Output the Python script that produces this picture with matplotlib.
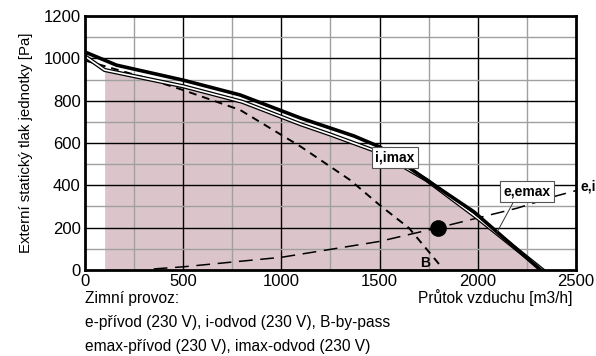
import numpy as np
import matplotlib.pyplot as plt

plt.rcParams['font.family'] = ['Liberation Sans', 'DejaVu Sans']

# horni krivka (silna)
x_top = [0, 160, 500, 790, 1100, 1370, 1500, 1740, 1980, 2320]
y_top = [1030, 968, 897, 827, 717, 633, 582, 425, 275, 0]

# dvojita krivka (spodni) - hranice plochy
x_low = [0, 100, 500, 800, 1100, 1250, 1500, 1740, 2000, 2330]
y_low = [1010, 945, 868, 795, 688, 640, 555, 425, 245, 0]

# by-pass
x_b = [0, 300, 500, 790, 1100, 1350, 1500, 1650, 1810]
y_b = [990, 910, 850, 756, 582, 425, 307, 198, 20]

# charakteristika site
x_sys = [350, 500, 1000, 1100, 1500, 1800, 2200, 2400, 2500]
y_sys = [5, 15, 60, 75, 135, 200, 292, 350, 375]

pt_x, pt_y = 1800, 200

fig = plt.figure(figsize=(5.96, 3.56), dpi=100)
ax = fig.add_axes([0.1426, 0.2416, 0.8238, 0.7134])

ax.fill_between(x_low[1:], y_low[1:], 0, color='#dbc5cb', zorder=1, lw=0)

# mrizka
for v in np.arange(250, 2500, 250):
    major = v % 500 == 0
    ax.axvline(v, color='black' if major else '#a0a0a0', lw=1.0, zorder=2)
for v in np.arange(100, 1200, 100):
    major = v % 200 == 0
    ax.axhline(v, color='black' if major else '#a0a0a0', lw=1.0, zorder=2)

ax.plot(x_sys, y_sys, color='black', lw=1.1, dashes=(9, 5), zorder=3)
ax.plot(x_b, y_b, color='black', lw=1.4, dashes=(4, 3), zorder=4)
ax.plot(x_low, y_low, color='black', lw=3.0, zorder=5)
ax.plot(x_low, y_low, color='white', lw=1.2, zorder=6)
ax.plot(x_top, y_top, color='black', lw=2.6, zorder=7)
ax.plot([pt_x], [pt_y], 'o', color='black', ms=11, zorder=8)

bbox = dict(boxstyle='square,pad=0.25', fc='white', ec='#555555', lw=0.8)
ax.text(1578, 531, 'i,imax', ha='center', va='center', fontsize=10, fontweight='bold', bbox=bbox, zorder=9)
ax.plot([2179, 2098], [317, 179], color='#333333', lw=0.7, zorder=8)
ax.text(2250, 373, 'e,emax', ha='center', va='center', fontsize=10, fontweight='bold', bbox=bbox, zorder=9)
ax.text(2522, 395, 'e,i', ha='left', va='center', fontsize=10, fontweight='bold', clip_on=False)
ax.text(1731, 33, 'B', ha='center', va='center', fontsize=10, fontweight='bold', zorder=9)

ax.set_xlim(0, 2500)
ax.set_ylim(0, 1200)
ax.set_xticks(np.arange(0, 2501, 500))
ax.set_yticks(np.arange(0, 1201, 200))
ax.tick_params(length=0, labelsize=12, pad=3)
for s in ax.spines.values():
    s.set_linewidth(2)
    s.set_zorder(10)

ax.set_ylabel('Externí statický tlak jednotky [Pa]', fontsize=10.8, labelpad=8)

fig.text(572 / 596, 1 - 298 / 356, 'Průtok vzduchu [m3/h]', ha='right', va='center', fontsize=11.2)
fig.text(85 / 596, 1 - 298 / 356, 'Zimní provoz:', ha='left', va='center', fontsize=11.2)
fig.text(85 / 596, 1 - 323 / 356, 'e-přívod (230 V), i-odvod (230 V), B-by-pass', ha='left', va='center', fontsize=11.2)
fig.text(85 / 596, 1 - 347 / 356, 'emax-přívod (230 V), imax-odvod (230 V)', ha='left', va='center', fontsize=11.2)

fig.savefig('out.png', dpi=100)
